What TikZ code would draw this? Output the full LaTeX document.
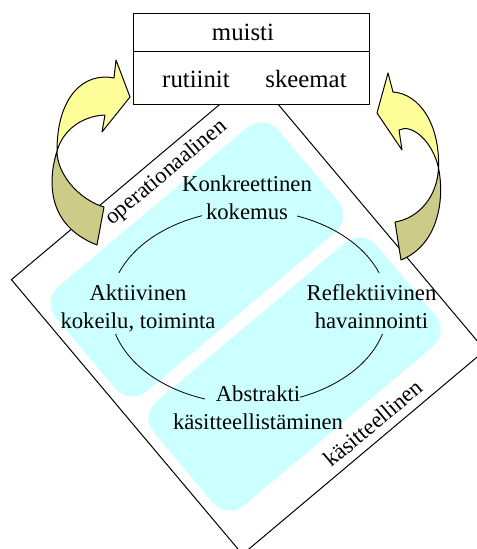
\documentclass[tikz,border=0pt]{standalone}
\usepackage{fontspec}
\setmainfont{Liberation Serif}
\definecolor{zonecyan}{RGB}{204,255,255}
\definecolor{arrowfront}{RGB}{255,255,153}
\definecolor{arrowback}{RGB}{204,204,136}
\newcommand\twoline[2]{\begin{tabular}[t]{@{}c@{}}#1\\#2\end{tabular}}
\begin{document}
\begin{tikzpicture}[x=0.75pt, y=0.75pt,
  thinline/.style={line width=0.75pt},
  frame/.style={thinline, draw=black, fill=white},
  zone/.style={fill=zonecyan, rounded corners=16.5pt},
  cycleline/.style={line width=0.6pt},
  cyctext/.style={font=\fontsize{17}{21}\selectfont, inner sep=0pt, anchor=base},
  edgelabel/.style={font=\fontsize{17}{21}\selectfont, inner sep=0pt},
  boxtext/.style={font=\fontsize{18.6}{22}\selectfont, inner sep=0pt, anchor=base},
  memorybox/.style={thinline, draw=black, fill=white, inner sep=0pt,
                    minimum width=177.5pt, minimum height=68.25pt},
  front/.style={thinline, draw=black, fill=arrowfront, line join=round},
  back/.style={thinline, draw=black, fill=arrowback, line join=round}]

\useasboundingbox (0,0) rectangle (477,-549);
\clip (0,0) rectangle (477,-549);

% tilted frame with the two learning zones
\begin{scope}[shift={(248.25,-315)}, rotate=40.07]
  \draw[frame] (-158.5,-179.5) rectangle (158.5,179.5);
  \fill[zone] (-149,7) rectangle (142,144);
  \fill[zone] (-148,-143) rectangle (143,-7);
  \node[edgelabel, rotate=40.07] (oper) at (29,161.5) {operationaalinen};
  \node[edgelabel, rotate=40.07] (kasit) at (26,-163) {käsitteellinen};
\end{scope}

% learning cycle
\coordinate (cyc) at (249,-307);
\draw[cycleline] (cyc) ++(109.8:139 and 97) arc[start angle=109.8, end angle=159.5, x radius=139, y radius=97];
\draw[cycleline] (cyc) ++(69.8:139 and 97) arc[start angle=69.8, end angle=20.5, x radius=139, y radius=97];
\draw[cycleline] (cyc) ++(196.2:139 and 97) arc[start angle=196.2, end angle=251.5, x radius=139, y radius=97];
\draw[cycleline] (cyc) ++(291.5:139 and 97) arc[start angle=291.5, end angle=343.8, x radius=139, y radius=97];

\node[cyctext] (konk) at (247,-191.5) {\twoline{Konkreettinen}{kokemus}};
\node[cyctext] (akti) at (138,-300) {\twoline{Aktiivinen}{kokeilu, toiminta}};
\node[cyctext] (refl) at (371.5,-300) {\twoline{Reflektiivinen}{havainnointi}};
\node[cyctext] (abst) at (258,-401.7) {\twoline{Abstrakti}{käsitteellistäminen}};

% memory box
\node[memorybox] (mem) at (251.65,-58.8) {};
\coordinate (divl) at (133.3,-51.7);
\coordinate (divr) at (370,-51.7);
\draw[thinline] (divl) -- (divr);
\node[boxtext] (muisti) at (243,-41) {muisti};
\node[boxtext] (rut) at (196,-87.3) {rutiinit};
\node[boxtext] (ske) at (306,-87.3) {skeemat};

% left curved arrow
\draw[back] (57,-151) .. controls (57,-175) and (80,-200) .. (104,-207)
  -- (97,-245) .. controls (46,-225) and (48,-180) .. (57,-151) -- cycle;
\draw[front] (105,-115) .. controls (82,-116) and (63,-130) .. (57,-151)
  .. controls (57,-95) and (85,-72) .. (114,-78)
  -- (116,-60) -- (130,-97) -- (102,-132) -- cycle;

% right curved arrow
\draw[back] (438.5,-168) .. controls (437.5,-195) and (420,-218) .. (395,-222)
  -- (401,-260) .. controls (438,-245) and (445,-200) .. (438.5,-168) -- cycle;
\draw[front] (399,-130) .. controls (412,-123) and (433,-142) .. (438.5,-168)
  .. controls (440,-125) and (420,-94) .. (393,-92)
  -- (388,-73) -- (377,-113) -- (402,-150) -- cycle;
\end{tikzpicture}
\end{document}
